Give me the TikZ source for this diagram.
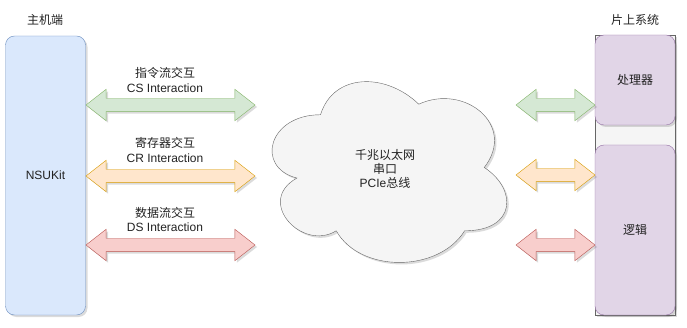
\documentclass[tikz,border=0pt]{standalone}
\usepackage{fontspec}
\setmainfont{Liberation Sans}
\newfontfamily\cjk{Noto Sans CJK SC}
\usepackage{xcolor}
\usetikzlibrary{shapes.arrows, shadows}
\definecolor{hostbg}{HTML}{DAE8FC}
\definecolor{hostline}{HTML}{6C8EBF}
\definecolor{socbg}{HTML}{E1D5E7}
\definecolor{socline}{HTML}{9673A6}
\definecolor{netbg}{HTML}{F5F5F5}
\definecolor{netline}{HTML}{666666}
\definecolor{csbg}{HTML}{D5E8D4}
\definecolor{csline}{HTML}{82B366}
\definecolor{crbg}{HTML}{FFE6CC}
\definecolor{crline}{HTML}{D79B00}
\definecolor{dsbg}{HTML}{F8CECC}
\definecolor{dsline}{HTML}{B85450}
\definecolor{textc}{HTML}{222222}

\begin{document}
\begin{tikzpicture}[
    x=1pt, y=-1pt,
    soft/.style={drop shadow={shadow xshift=2pt, shadow yshift=-2pt, opacity=0.2, fill=black!70}},
    box/.style={rectangle, draw, rounded corners=9pt, minimum width=80pt, soft, text=textc, font=\fontsize{12pt}{14.4pt}\selectfont},
    link/.style={double arrow, draw, inner xsep=0pt, inner ysep=6.5pt, double arrow head extend=9pt, double arrow tip angle=76, soft},
    lbl/.style={align=center, inner sep=0pt, text=textc, font=\fontsize{12pt}{14.4pt}\selectfont}
]
    \useasboundingbox (0,0) rectangle (687,328);

    % Boxes
    \node[box, fill=hostbg, draw=hostline, minimum height=279pt] (host) at (45.5,175.5) {NSUKit};
    \node[box, fill=netbg, draw=netline, rounded corners=0pt, minimum height=280pt] (soc) at (635,175) {};
    \node[box, fill=socbg, draw=socline, minimum height=90pt] (cpu) at (635,80) {\cjk 处理器};
    \node[box, fill=socbg, draw=socline, minimum height=170pt] (logic) at (635,230) {\cjk 逻辑};

    % Cloud
    \begin{scope}[shift={(255,62)}, x=262pt, y=-211pt]
        \draw[fill=netbg, draw=netline, soft] (0.25,0.25)
            .. controls (0.05,0.25) and (0,0.5) .. (0.16,0.55)
            .. controls (0,0.66) and (0.18,0.9) .. (0.31,0.8)
            .. controls (0.4,1) and (0.7,1) .. (0.8,0.8)
            .. controls (1,0.8) and (1,0.6) .. (0.875,0.5)
            .. controls (1,0.3) and (0.8,0.1) .. (0.625,0.2)
            .. controls (0.5,0.05) and (0.3,0.05) .. (0.25,0.25) -- cycle;
    \end{scope}
    \node[lbl] (net) at (385,169) {{\cjk 千兆以太网}\\{\cjk 串口}\\PCIe{\cjk 总线}};

    % Arrows
    \node[link, fill=csbg, draw=csline, minimum height=169pt] (csleft) at (170.5,105) {};
    \node[link, fill=crbg, draw=crline, minimum height=169pt] (crleft) at (170.5,176) {};
    \node[link, fill=dsbg, draw=dsline, minimum height=169pt] (dsleft) at (170.5,245) {};
    \node[link, fill=csbg, draw=csline, minimum height=79pt] (csright) at (555.5,105) {};
    \node[link, fill=crbg, draw=crline, minimum height=79pt] (crright) at (555.5,175) {};
    \node[link, fill=dsbg, draw=dsline, minimum height=79pt] (dsright) at (555.5,245) {};

    % Labels
    \node[lbl] (hostlbl) at (45,20) {\cjk 主机端};
    \node[lbl] (soclbl) at (635,20) {\cjk 片上系统};
    \node[lbl] (cslbl) at (165,80) {{\cjk 指令流交互}\\CS Interaction};
    \node[lbl] (crlbl) at (165,150) {{\cjk 寄存器交互}\\CR Interaction};
    \node[lbl] (dslbl) at (165,219.5) {{\cjk 数据流交互}\\DS Interaction};
\end{tikzpicture}
\end{document}
